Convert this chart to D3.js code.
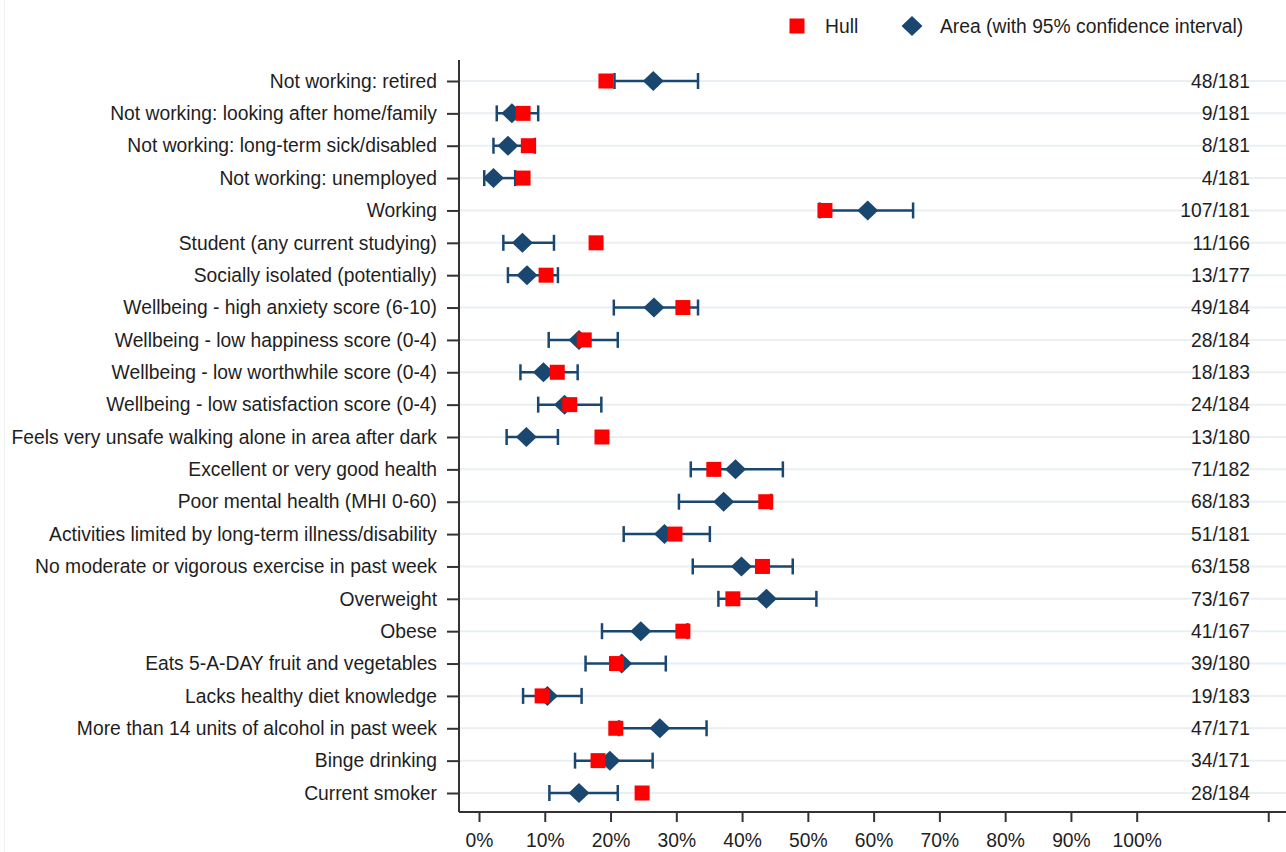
<!DOCTYPE html>
<html>
<head>
<meta charset="utf-8">
<script src="https://cdn.jsdelivr.net/npm/d3@7"></script>
<style>
  html, body { margin: 0; padding: 0; background: #fff; }
  svg { display: block; font-family: "Liberation Sans", Arial, sans-serif; }
</style>
</head>
<body>
<svg id="chart" width="1286" height="852"></svg>
<script>
const categories = [
  "Not working: retired",
  "Not working: looking after home/family",
  "Not working: long-term sick/disabled",
  "Not working: unemployed",
  "Working",
  "Student (any current studying)",
  "Socially isolated (potentially)",
  "Wellbeing - high anxiety score (6-10)",
  "Wellbeing - low happiness score (0-4)",
  "Wellbeing - low worthwhile score (0-4)",
  "Wellbeing - low satisfaction score (0-4)",
  "Feels very unsafe walking alone in area after dark",
  "Excellent or very good health",
  "Poor mental health (MHI 0-60)",
  "Activities limited by long-term illness/disability",
  "No moderate or vigorous exercise in past week",
  "Overweight",
  "Obese",
  "Eats 5-A-DAY fruit and vegetables",
  "Lacks healthy diet knowledge",
  "More than 14 units of alcohol in past week",
  "Binge drinking",
  "Current smoker"
];
const hullValues = [19.3, 6.7, 7.5, 6.7, 52.6, 17.8, 10.2, 31.0, 16.0, 11.9, 13.8, 18.7,
                    35.7, 43.6, 29.8, 43.1, 38.6, 31.0, 20.9, 9.6, 20.8, 18.1, 24.8];
const areaValues = [26.5, 5.0, 4.4, 2.2, 59.1, 6.6, 7.3, 26.6, 15.2, 9.8, 13.0, 7.2,
                    39.0, 37.2, 28.2, 39.9, 43.7, 24.6, 21.7, 10.4, 27.5, 19.9, 15.2];
const ciLower = [20.6, 2.7, 2.2, 0.8, 51.8, 3.7, 4.4, 20.5, 10.6, 6.3, 9.0, 4.2,
                 32.2, 30.4, 22.0, 32.5, 36.4, 18.7, 16.2, 6.7, 21.3, 14.6, 10.7];
const ciUpper = [33.3, 9.0, 8.5, 5.5, 66.0, 11.4, 12.0, 33.3, 21.1, 15.0, 18.6, 12.0,
                 46.2, 44.4, 35.1, 47.7, 51.3, 31.7, 28.4, 15.6, 34.6, 26.4, 21.1];
const countLabels = ["48/181", "9/181", "8/181", "4/181", "107/181", "11/166", "13/177",
                     "49/184", "28/184", "18/183", "24/184", "13/180", "71/182", "68/183",
                     "51/181", "63/158", "73/167", "41/167", "39/180", "19/183", "47/171",
                     "34/171", "28/184"];
const xTickValues = [0, 10, 20, 30, 40, 50, 60, 70, 80, 90, 100, 120];
const xTickLabels = ["0%", "10%", "20%", "30%", "40%", "50%", "60%", "70%", "80%", "90%", "100%", ""];
const legendLabels = ["Hull", "Area (with 95% confidence interval)"];

const svg = d3.select("#chart");
const W = 1286, H = 852;
const axisLeft = 459, axisTop = 60, axisBottom = 812;
const navy = "#1a476f", red = "#ff0000", textCol = "#1e1e1e", axisCol = "#333";

const x = d3.scaleLinear().domain([0, 100]).range([479, 1136.7]);
const y = d3.scalePoint().domain(categories).range([81, 793]);
const fontSize = 19.3;

// faint left border
svg.append("line").attr("x1", 4.5).attr("x2", 4.5).attr("y1", 0).attr("y2", H)
  .attr("stroke", "#f0f0f0").attr("stroke-width", 1);

// gridlines
svg.append("g").selectAll("line").data(categories).join("line")
  .attr("x1", axisLeft).attr("x2", W)
  .attr("y1", d => y(d)).attr("y2", d => y(d))
  .attr("stroke", "#e9eff3").attr("stroke-width", 2);

// y axis
const yAxis = d3.axisLeft(y).tickSize(12).tickPadding(10);
const gy = svg.append("g").attr("transform", `translate(${axisLeft},0)`).call(yAxis);
gy.select(".domain").attr("d", `M0,${axisTop}V${axisBottom}`).attr("stroke", axisCol).attr("stroke-width", 2);
gy.selectAll(".tick line").attr("stroke", axisCol).attr("stroke-width", 2);
gy.selectAll(".tick text").attr("font-size", fontSize).attr("fill", textCol)
  .attr("font-family", "Liberation Sans, Arial, sans-serif");

// x axis
const xAxis = d3.axisBottom(x).tickValues(xTickValues)
  .tickFormat((d, i) => xTickLabels[i]).tickSize(10).tickPadding(11);
const gx = svg.append("g").attr("transform", `translate(0,${axisBottom})`).call(xAxis);
gx.select(".domain").attr("d", `M${axisLeft},0H${W}`).attr("stroke", axisCol).attr("stroke-width", 2);
gx.selectAll(".tick line").attr("stroke", axisCol).attr("stroke-width", 2);
gx.selectAll(".tick text").attr("font-size", fontSize).attr("fill", textCol)
  .attr("font-family", "Liberation Sans, Arial, sans-serif");

// CI lines
const g = svg.append("g");
g.selectAll("line.ci").data(categories).join("line").attr("class", "ci")
  .attr("x1", (d, i) => x(ciLower[i])).attr("x2", (d, i) => x(ciUpper[i]))
  .attr("y1", d => y(d)).attr("y2", d => y(d))
  .attr("stroke", navy).attr("stroke-width", 2.5);
const capH = 8;
g.selectAll("line.capl").data(categories).join("line").attr("class", "capl")
  .attr("x1", (d, i) => x(ciLower[i])).attr("x2", (d, i) => x(ciLower[i]))
  .attr("y1", d => y(d) - capH).attr("y2", d => y(d) + capH)
  .attr("stroke", navy).attr("stroke-width", 2.5);
g.selectAll("line.capu").data(categories).join("line").attr("class", "capu")
  .attr("x1", (d, i) => x(ciUpper[i])).attr("x2", (d, i) => x(ciUpper[i]))
  .attr("y1", d => y(d) - capH).attr("y2", d => y(d) + capH)
  .attr("stroke", navy).attr("stroke-width", 2.5);

// diamonds
const dw = 10.5, dh = 10;
const diamondPath = (cx, cy) => `M${cx - dw},${cy}L${cx},${cy - dh}L${cx + dw},${cy}L${cx},${cy + dh}Z`;
g.selectAll("path.area").data(categories).join("path").attr("class", "area")
  .attr("d", (d, i) => diamondPath(x(areaValues[i]), y(d)))
  .attr("fill", navy);

// red squares
const sq = 15;
g.selectAll("rect.hull").data(categories).join("rect").attr("class", "hull")
  .attr("x", (d, i) => x(hullValues[i]) - sq / 2).attr("y", d => y(d) - sq / 2)
  .attr("width", sq).attr("height", sq).attr("fill", red);

// count labels
svg.append("g").selectAll("text").data(categories).join("text")
  .attr("x", 1250).attr("y", d => y(d)).attr("dy", "0.35em")
  .attr("text-anchor", "end").attr("font-size", fontSize).attr("fill", textCol)
  .text((d, i) => countLabels[i]);

// legend
const lg = svg.append("g");
lg.append("rect").attr("x", 797 - sq / 2).attr("y", 26 - sq / 2).attr("width", sq).attr("height", sq).attr("fill", red);
lg.append("text").attr("x", 825).attr("y", 26).attr("dy", "0.35em").attr("font-size", fontSize).attr("fill", textCol).text(legendLabels[0]);
lg.append("path").attr("d", diamondPath(912, 26)).attr("fill", navy);
lg.append("text").attr("x", 940).attr("y", 26).attr("dy", "0.35em").attr("font-size", fontSize).attr("fill", textCol).text(legendLabels[1]);
</script>
</body>
</html>
